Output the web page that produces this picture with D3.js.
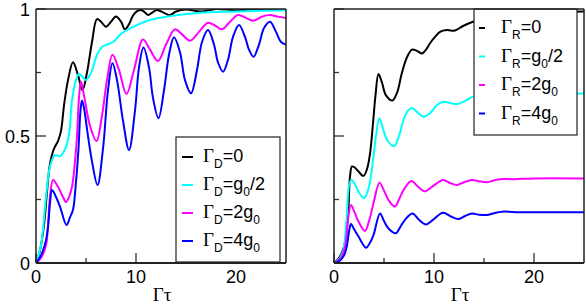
<!DOCTYPE html>
<html><head><meta charset="utf-8">
<script src="https://cdn.jsdelivr.net/npm/d3@7"></script>
<style>body{margin:0;background:#fff}svg{display:block}</style>
</head><body>
<svg id="c" width="586" height="306"></svg>
<script>
// ---- data ----
const xTicks = [0, 10, 20];
const xMinor = [5, 15];
const yTicks = [0, 0.5, 1];
const yTickLabels = ["0", "0.5", "1"];
const yMinor = [0.25, 0.75];
const colors = ["#000000", "#00ffff", "#ff00ff", "#0000ff"];
const leftLabels = [["D","0"],["D","g0/2"],["D","2g0"],["D","4g0"]];
const rightLabels = [["R","0"],["R","g0/2"],["R","2g0"],["R","4g0"]];

const leftBlack = [[0,0],[0.4,0.05],[0.8,0.15],[1.1,0.28],[1.4,0.39],[1.8,0.45],[2.2,0.48],[2.5,0.52],[2.8,0.62],[3.2,0.72],[3.7,0.79],[4.2,0.74],[4.65,0.68],[5.1,0.75],[5.6,0.87],[6.1,0.96],[6.5,0.95],[7.0,0.93],[7.5,0.95],[8.0,0.97],[8.5,0.95],[8.9,0.92],[9.3,0.94],[9.8,0.98],[10.4,0.996],[10.8,0.99],[11.2,0.976],[11.7,0.988],[12.1,0.996],[12.8,0.985],[13.4,0.976],[14.0,0.99],[15.0,0.998],[16.5,0.99],[18,1.0],[20,0.995],[22,1.0],[25,1.0]];
const leftCyan = [[0,0],[0.5,0.07],[1.0,0.26],[1.4,0.38],[1.9,0.425],[2.4,0.42],[2.8,0.44],[3.1,0.47],[3.35,0.52],[3.6,0.64],[4.0,0.72],[4.3,0.745],[4.6,0.735],[5.0,0.72],[5.4,0.74],[5.7,0.77],[6.1,0.82],[6.6,0.85],[7.1,0.86],[7.7,0.87],[8.2,0.89],[8.6,0.905],[9.7,0.93],[11.4,0.957],[13.1,0.97],[16.4,0.985],[20,0.99],[25,0.995]];
const leftMagenta = [[0,0],[0.5,0.02],[1.0,0.07],[1.2,0.15],[1.4,0.26],[1.7,0.327],[2.2,0.3],[2.7,0.26],[3.0,0.24],[3.3,0.26],[3.6,0.3],[3.9,0.4],[4.1,0.5],[4.3,0.65],[4.5,0.715],[4.8,0.66],[5.4,0.54],[6.05,0.48],[6.6,0.58],[7.1,0.72],[7.65,0.82],[8.3,0.76],[9.05,0.665],[9.8,0.76],[10.7,0.88],[11.4,0.84],[12.2,0.795],[13.0,0.86],[13.9,0.92],[14.6,0.9],[15.4,0.875],[16.3,0.91],[17.2,0.946],[17.9,0.935],[18.6,0.92],[19.4,0.95],[20.2,0.976],[21.0,0.965],[21.7,0.954],[22.6,0.97],[23.4,0.976],[24.2,0.97],[25,0.965]];
const leftBlue = [[0,0],[0.5,0.03],[1.0,0.09],[1.2,0.14],[1.4,0.235],[1.6,0.287],[2.0,0.26],[2.4,0.222],[3.05,0.15],[3.4,0.18],[3.7,0.21],[4.0,0.32],[4.25,0.45],[4.45,0.6],[4.6,0.64],[4.8,0.61],[5.2,0.5],[5.6,0.4],[6.15,0.307],[6.7,0.45],[7.2,0.68],[7.65,0.786],[8.1,0.72],[8.7,0.56],[9.3,0.445],[9.9,0.6],[10.3,0.77],[10.75,0.848],[11.3,0.77],[11.7,0.65],[12.25,0.57],[12.8,0.68],[13.3,0.82],[13.8,0.889],[14.4,0.83],[14.9,0.72],[15.5,0.668],[16.1,0.76],[16.6,0.87],[17.2,0.917],[17.8,0.86],[18.2,0.79],[18.7,0.753],[19.2,0.8],[19.7,0.89],[20.3,0.937],[20.9,0.89],[21.3,0.84],[21.75,0.812],[22.3,0.86],[22.8,0.925],[23.4,0.95],[24.0,0.91],[24.5,0.87],[25,0.86]];

const rightBlack = [[0,0],[0.6,0.026],[1.1,0.08],[1.3,0.14],[1.45,0.22],[1.6,0.34],[1.8,0.38],[2.1,0.375],[2.45,0.36],[2.95,0.343],[3.3,0.37],[3.6,0.43],[3.9,0.55],[4.15,0.66],[4.45,0.744],[4.8,0.71],[5.2,0.66],[5.85,0.64],[6.3,0.67],[6.8,0.75],[7.3,0.81],[7.8,0.84],[8.3,0.835],[8.8,0.825],[9.2,0.84],[9.6,0.865],[10.1,0.89],[10.6,0.91],[11.3,0.917],[12.1,0.915],[12.9,0.933],[13.9,0.95],[15,0.96],[17,0.975],[20,0.985],[25,0.99]];
const rightCyan = [[0,0],[0.5,0.015],[0.93,0.05],[1.1,0.1],[1.27,0.18],[1.53,0.31],[1.77,0.327],[2.1,0.31],[2.45,0.28],[3.0,0.255],[3.3,0.275],[3.55,0.31],[3.95,0.42],[4.2,0.5],[4.53,0.57],[4.9,0.53],[5.3,0.485],[6.0,0.46],[6.5,0.5],[6.95,0.563],[7.4,0.6],[7.8,0.61],[8.3,0.595],[8.95,0.576],[9.6,0.59],[10.3,0.622],[10.95,0.635],[11.6,0.63],[12.3,0.626],[13.3,0.642],[13.9,0.655],[15,0.66],[17,0.665],[20,0.667],[25,0.667]];
const rightMagenta = [[0,0],[0.6,0.015],[1.1,0.064],[1.43,0.18],[1.7,0.228],[2.05,0.2],[2.45,0.163],[3.1,0.126],[3.5,0.165],[3.95,0.235],[4.55,0.316],[5.0,0.285],[5.45,0.248],[6.1,0.222],[6.5,0.25],[6.95,0.287],[7.75,0.323],[8.4,0.3],[9.1,0.282],[9.8,0.3],[10.9,0.327],[11.6,0.315],[12.3,0.307],[13.0,0.318],[13.8,0.327],[14.5,0.322],[15.3,0.318],[16.0,0.325],[16.6,0.33],[18,0.33],[20,0.333],[25,0.333]];
const rightBlue = [[0,0],[0.6,0.01],[1.0,0.03],[1.27,0.064],[1.53,0.13],[1.7,0.154],[2.05,0.13],[2.45,0.104],[3.2,0.06],[3.6,0.08],[3.95,0.11],[4.6,0.195],[5.0,0.165],[5.45,0.136],[6.2,0.117],[6.6,0.14],[7.1,0.17],[7.85,0.195],[8.5,0.17],[9.2,0.152],[9.9,0.17],[10.9,0.198],[11.7,0.183],[12.4,0.173],[13.1,0.185],[13.8,0.195],[14.5,0.19],[15.3,0.189],[16.0,0.196],[16.8,0.202],[18.5,0.2],[20,0.2],[25,0.2]];

const leftSeries = [leftBlack, leftCyan, leftMagenta, leftBlue];
const rightSeries = [rightBlack, rightCyan, rightMagenta, rightBlue];

// ---- drawing ----
const svg = d3.select("#c");
const SANS = "'Liberation Sans', Arial, sans-serif";
const SERIF = "'Liberation Serif', 'Times New Roman', serif";

function panel(opt) {
  const x = d3.scaleLinear().domain([0, 25]).range([opt.x0, opt.x0 + 250]);
  const y = d3.scaleLinear().domain([0, 1]).range([263, 9]);
  const g = svg.append("g");
  const cid = "clip" + opt.id;
  svg.append("clipPath").attr("id", cid).append("rect")
    .attr("x", x(0)).attr("y", y(1)).attr("width", x(25) - x(0)).attr("height", y(0) - y(1));

  const line = d3.line().x(d => x(d[0])).y(d => y(d[1])).curve(d3.curveCatmullRom.alpha(0.5));
  const cg = g.append("g").attr("clip-path", `url(#${cid})`);
  opt.series.forEach((s, i) => {
    cg.append("path").attr("d", line(s)).attr("fill", "none")
      .attr("stroke", colors[i]).attr("stroke-width", 2);
  });

  // ticks
  const tk = g.append("g").attr("stroke", "#333").attr("stroke-width", 1.3);
  xTicks.forEach(t => tk.append("line").attr("x1", x(t)).attr("x2", x(t)).attr("y1", y(0)).attr("y2", y(0) - 10));
  xMinor.forEach(t => tk.append("line").attr("x1", x(t)).attr("x2", x(t)).attr("y1", y(0)).attr("y2", y(0) - 5));
  yTicks.forEach(t => tk.append("line").attr("x1", x(0)).attr("x2", x(0) + 10).attr("y1", y(t)).attr("y2", y(t)));
  yMinor.forEach(t => tk.append("line").attr("x1", x(0)).attr("x2", x(0) + 5).attr("y1", y(t)).attr("y2", y(t)));

  // legend
  const L = opt.legend;
  const lg = g.append("g");
  lg.append("rect").attr("x", L.x).attr("y", L.y).attr("width", L.w).attr("height", L.h)
    .attr("fill", "#fff").attr("stroke", "#222").attr("stroke-width", 1.2);
  opt.labels.forEach((lab, i) => {
    const by = L.base + i * L.step;
    lg.append("line").attr("x1", L.x + L.l0).attr("x2", L.x + L.l1)
      .attr("y1", by - 5).attr("y2", by - 5).attr("stroke", colors[i]).attr("stroke-width", 2);
    const t = lg.append("text").attr("x", L.x + 27).attr("y", by)
      .attr("font-family", SANS).attr("font-size", 18).attr("fill", "#000");
    t.append("tspan").attr("font-family", SERIF).attr("font-size", 19).text("Γ");
    t.append("tspan").attr("font-size", 12).attr("dy", 6).text(lab[0]);
    const v = lab[1];
    if (v === "0") {
      t.append("tspan").attr("dy", -6).text("=0");
    } else {
      const m = v.match(/^(\d*)g0(.*)$/);
      t.append("tspan").attr("dy", -6).text("=" + m[1] + "g");
      t.append("tspan").attr("font-size", 12).attr("dy", 6).text("0");
      if (m[2]) t.append("tspan").attr("dy", -6).text(m[2]);
    }
  });

  // frame
  const fr = g.append("g").attr("fill", "none").attr("stroke", "#222").attr("stroke-width", 1.5);
  fr.append("line").attr("x1", x(0)).attr("x2", x(25)).attr("y1", y(1)).attr("y2", y(1));
  fr.append("line").attr("x1", x(0)).attr("x2", x(25)).attr("y1", y(0)).attr("y2", y(0)).attr("stroke-width", 2);
  fr.append("line").attr("x1", x(0)).attr("x2", x(0)).attr("y1", y(1)).attr("y2", y(0));
  fr.append("line").attr("x1", x(25)).attr("x2", x(25)).attr("y1", y(1)).attr("y2", y(0));

  // x tick labels
  xTicks.forEach(t => g.append("text").attr("x", x(t)).attr("y", 283).attr("text-anchor", "middle")
    .attr("font-family", SANS).attr("font-size", 18).text(String(t)));
  if (opt.yLabels) {
    yTicks.forEach((t, i) => g.append("text").attr("x", x(0) - 6).attr("y", y(t) + 6.5).attr("text-anchor", "end")
      .attr("font-family", SANS).attr("font-size", 18).text(yTickLabels[i]));
  }
  // axis title
  g.append("text").attr("x", x(12.6)).attr("y", 301).attr("text-anchor", "middle")
    .attr("font-family", SERIF).attr("font-size", 19).text("Γτ");
}

panel({id: "L", x0: 36, series: leftSeries, labels: leftLabels, yLabels: true,
  legend: {x: 176, y: 137, w: 104, h: 125, base: 162, step: 28, l0: 6, l1: 17}});
panel({id: "R", x0: 334, series: rightSeries, labels: rightLabels, yLabels: false,
  legend: {x: 474, y: 9, w: 103, h: 126, base: 33, step: 28.5, l0: 5, l1: 11}});
</script>
</body></html>
